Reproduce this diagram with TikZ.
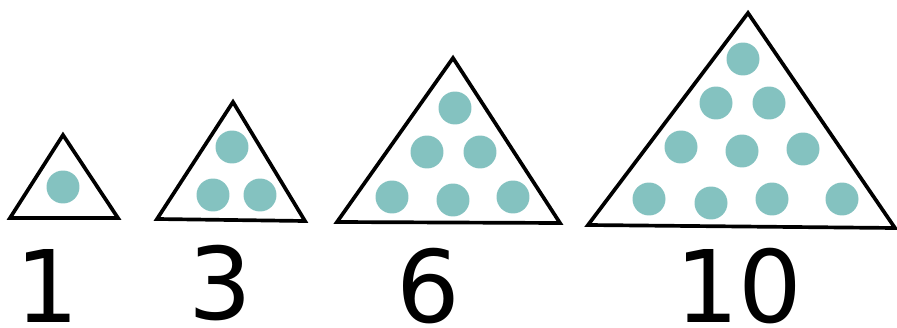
\documentclass[tikz,border=0pt]{standalone}
\usepackage{fontspec}
\setmainfont{DejaVu Sans}
\definecolor{pebblecol}{RGB}{132,194,192}

\begin{document}
\begin{tikzpicture}[
  x=0.02cm, y=-0.02cm,
  frame/.style={draw, line width=2.1pt, line join=miter},
  pebble/.style={circle, fill=pebblecol, inner sep=0pt, minimum size=0.66cm},
  count/.style={anchor=base, inner sep=0pt, font=\fontsize{57}{60}\selectfont}
]
  \useasboundingbox (0,0) rectangle (897,328);

  % triangles
  \draw[frame] (10,218) -- (63,135) -- (118,218) -- cycle;
  \draw[frame] (157,219) -- (233,102) -- (305,221) -- cycle;
  \draw[frame] (337,222) -- (453,58) -- (560,223) -- cycle;
  \draw[frame] (588,225) -- (748,13) -- (895,228) -- cycle;

  % one
  \node[pebble] (p1a) at (63,187) {};

  % three
  \node[pebble] (p3a) at (232,147) {};
  \node[pebble] (p3b) at (213,195) {};
  \node[pebble] (p3c) at (260,195) {};

  % six
  \node[pebble] (p6a) at (455,108) {};
  \node[pebble] (p6b) at (427,152) {};
  \node[pebble] (p6c) at (480,152) {};
  \node[pebble] (p6d) at (392,197) {};
  \node[pebble] (p6e) at (453,200) {};
  \node[pebble] (p6f) at (513,197) {};

  % ten
  \node[pebble] (p10a) at (743,59) {};
  \node[pebble] (p10b) at (716,103) {};
  \node[pebble] (p10c) at (769,103) {};
  \node[pebble] (p10d) at (681,147) {};
  \node[pebble] (p10e) at (742,151) {};
  \node[pebble] (p10f) at (803,149) {};
  \node[pebble] (p10g) at (649,199) {};
  \node[pebble] (p10h) at (711,203) {};
  \node[pebble] (p10i) at (772,199) {};
  \node[pebble] (p10j) at (842,199) {};

  % counts
  \node[count] (n1) at (47,322) {1};
  \node[count] (n3) at (220,319) {3};
  \node[count] (n6) at (428,322) {6};
  \node[count] (n10) at (739,322) {10};
\end{tikzpicture}
\end{document}
